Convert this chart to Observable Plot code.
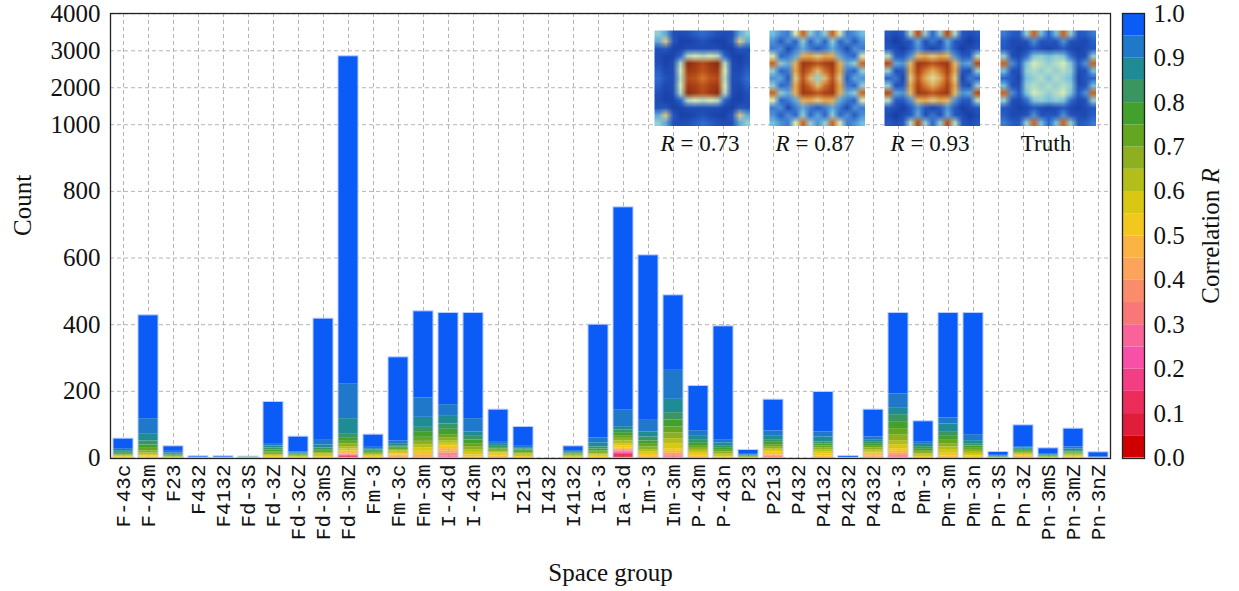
<!DOCTYPE html>
<html><head><meta charset="utf-8">
<script src="https://cdn.jsdelivr.net/npm/d3@7"></script>
<script src="https://cdn.jsdelivr.net/npm/@observablehq/plot@0.6"></script>
<style>
body{margin:0;background:#fff;}
#wrap{position:relative;width:1239px;height:591px;overflow:hidden;background:#fff;}
#wrap > * {position:absolute;}
.lbl{font-family:"Liberation Serif",serif;font-size:23px;color:#111;white-space:nowrap;transform:translateX(-50%);}
.cb{font-family:"Liberation Serif",serif;font-size:25px;color:#111;white-space:nowrap;transform:translate(-50%,-50%) rotate(-90deg);}
</style></head><body><div id="wrap"></div>
<script>
const categories = ["F-43c","F-43m","F23","F432","F4132","Fd-3S","Fd-3Z","Fd-3cZ","Fd-3mS","Fd-3mZ",
  "Fm-3","Fm-3c","Fm-3m","I-43d","I-43m","I23","I213","I432","I4132","Ia-3",
  "Ia-3d","Im-3","Im-3m","P-43m","P-43n","P23","P213","P432","P4132","P4232",
  "P4332","Pa-3","Pm-3","Pm-3m","Pm-3n","Pn-3S","Pn-3Z","Pn-3mS","Pn-3mZ","Pn-3nZ"];
// lower edge of each correlation bin (width 0.05)
const binLower = [0,0.05,0.10,0.15,0.20,0.25,0.30,0.35,0.40,0.45,0.50,0.55,0.60,0.65,0.70,0.75,0.80,0.85,0.90,0.95];
const binColors = ["#d00000","#e01e3c","#ec2d5c","#f23f84","#f850a8","#f8649a","#f87878","#fa8c6c","#fca45c","#fbb444",
  "#f2c81e","#d8c814","#b4be1a","#8eb01e","#64a620","#44a02c","#3a9660","#1f8c95","#1f78c9","#0b5cf7"];
// counts per space group, one value per correlation bin (R = 0.00 ... 0.95)
const counts = [
  [0,0,0,0,0,0,0,0,0,1,2,2,2,2,2,3,3,5,6,30],
  [0,0,0,0,0,0,0,0,1,2,3,4,5,6,8,10,12,22,45,310],
  [0,0,0,0,0,0,0,0,0,0,1,1,1,2,2,2,2,4,5,15],
  [0,0,0,0,0,0,0,0,0,0,0,0,0,0,0,0,0,1,1,3],
  [0,0,0,0,0,0,0,0,0,0,0,0,0,0,0,0,0,1,1,3],
  [0,0,0,0,0,0,0,0,0,0,0,0,0,1,2,1,0,0,0,0],
  [0,0,0,0,0,0,0,0,0,1,3,3,3,4,4,6,6,6,5,127],
  [0,0,0,0,0,0,0,0,0,0,1,2,2,2,2,2,2,2,3,46],
  [0,0,0,0,0,0,0,0,0,1,3,4,4,4,4,5,5,9,14,365],
  [2,2,2,1,1,1,1,1,2,3,5,6,7,8,8,9,12,47,105,2627],
  [0,0,0,0,0,0,0,0,0,2,3,3,3,3,3,3,4,4,4,38],
  [0,0,0,0,0,0,0,2,3,4,4,4,4,4,4,4,4,6,8,251],
  [0,0,0,0,0,0,0,0,4,6,10,10,10,10,12,15,15,30,58,260],
  [0,0,0,0,3,3,4,5,6,7,8,8,8,9,9,16,16,23,35,275],
  [0,0,0,0,0,0,0,0,0,3,6,8,8,9,9,11,11,13,40,317],
  [0,0,0,0,0,0,0,0,2,4,5,4,4,4,4,4,4,6,6,98],
  [0,0,0,0,0,0,0,0,0,0,4,4,4,4,4,4,3,4,4,58],
  [0,0,0,0,0,0,0,0,0,0,0,0,0,0,0,0,0,0,0,0],
  [0,0,0,0,0,0,0,0,0,0,2,2,2,3,3,2,2,3,3,13],
  [0,0,0,0,0,0,0,0,0,2,3,4,4,4,4,6,6,12,15,340],
  [3,4,4,3,3,2,2,2,3,4,6,7,8,8,8,9,8,10,51,607],
  [0,0,0,0,0,0,0,0,2,3,6,7,7,8,8,10,12,15,35,495],
  [0,0,1,1,1,2,2,3,4,6,8,15,15,17,18,21,22,40,87,225],
  [0,0,0,0,0,0,0,0,2,3,6,6,6,6,6,9,9,12,17,134],
  [0,0,0,0,0,0,0,0,0,0,3,5,5,5,5,6,6,10,10,340],
  [0,0,0,0,0,0,0,0,0,0,2,0,0,2,0,2,1,2,2,13],
  [0,0,0,0,0,0,2,3,4,4,5,5,5,6,6,7,8,12,14,94],
  [0,0,0,0,0,0,0,0,0,0,0,0,0,0,0,0,0,0,0,0],
  [0,0,0,0,0,0,0,0,2,4,6,6,6,6,6,6,6,15,15,120],
  [0,0,0,0,0,0,0,0,0,0,0,0,0,0,0,0,0,0,2,4],
  [0,0,0,0,0,0,0,3,3,4,5,5,5,5,5,6,6,8,8,82],
  [0,0,0,0,2,2,3,3,4,6,8,12,12,18,18,21,21,21,41,243],
  [0,0,0,0,0,0,0,0,0,0,4,4,4,5,5,6,6,7,8,61],
  [0,0,0,0,0,0,0,0,2,4,8,9,10,10,10,12,12,25,18,315],
  [0,0,0,0,0,0,0,0,0,2,4,5,6,6,6,7,7,9,18,365],
  [0,0,0,0,0,0,0,0,0,0,1,0,0,1,0,1,1,2,2,10],
  [0,0,0,0,0,0,0,0,2,3,3,3,3,3,3,3,3,4,4,64],
  [0,0,0,0,0,0,0,0,0,0,2,0,1,0,2,1,2,2,3,16],
  [0,0,0,0,0,0,0,0,0,0,3,3,3,3,3,3,4,5,6,55],
  [0,0,0,0,0,0,0,0,0,0,0,0,0,0,0,0,1,1,2,13]
];
const yTicks = [0,200,400,600,800,1000,2000,3000,4000];
const yBreaks = [0,1000,4000];
const rTicks = [0,0.1,0.2,0.3,0.4,0.5,0.6,0.7,0.8,0.9,1.0];
// inset maps: quarter grids (7x7, mirrored to 13x13), values on a 0..1 colour scale
const insetNames = ["R = 0.73","R = 0.87","R = 0.93","Truth"];
const insetQuarters = [
  [[0.45,0.35,0.12,0.10,0.12,0.18,0.22],
   [0.35,0.62,0.15,0.05,0.05,0.08,0.12],
   [0.12,0.15,0.05,0.06,0.10,0.10,0.10],
   [0.10,0.05,0.06,0.20,0.50,0.55,0.50],
   [0.12,0.05,0.10,0.50,1.00,0.95,0.88],
   [0.18,0.08,0.10,0.55,0.95,0.92,0.85],
   [0.22,0.12,0.10,0.50,0.88,0.85,0.78]],
  [[0.40,0.30,0.25,0.55,0.82,0.45,0.30],
   [0.30,0.15,0.30,0.20,0.45,0.20,0.35],
   [0.25,0.30,0.08,0.25,0.35,0.25,0.15],
   [0.55,0.20,0.25,0.35,0.68,0.70,0.62],
   [0.82,0.45,0.35,0.68,0.95,0.92,0.85],
   [0.45,0.20,0.25,0.70,0.92,0.80,0.65],
   [0.30,0.35,0.15,0.62,0.85,0.65,0.45]],
  [[0.15,0.10,0.15,0.50,0.88,0.45,0.20],
   [0.10,0.02,0.10,0.15,0.35,0.10,0.25],
   [0.15,0.10,0.03,0.15,0.30,0.15,0.05],
   [0.50,0.15,0.15,0.30,0.66,0.70,0.62],
   [0.88,0.35,0.30,0.66,0.95,0.92,0.85],
   [0.45,0.10,0.15,0.70,0.92,0.78,0.68],
   [0.20,0.25,0.05,0.62,0.85,0.68,0.58]],
  [[0.25,0.18,0.15,0.45,0.82,0.40,0.20],
   [0.18,0.08,0.10,0.12,0.30,0.12,0.15],
   [0.15,0.10,0.05,0.08,0.15,0.10,0.06],
   [0.45,0.12,0.08,0.22,0.42,0.45,0.40],
   [0.82,0.30,0.15,0.42,0.55,0.50,0.45],
   [0.40,0.12,0.10,0.45,0.50,0.45,0.50],
   [0.20,0.15,0.06,0.40,0.45,0.50,0.42]]
];
const insetStops = [0,0.2,0.4,0.55,0.7,0.85,1];
const insetColors = ["#15389f","#2a62cc","#72bfe0","#d6ebb8","#e6a64a","#c0541c","#8e2c0e"];

const wrap = document.getElementById("wrap");

const long = [];
categories.forEach((sg,i)=>counts[i].forEach((c,b)=>{ if(c>0) long.push({sg, bin:b, count:c}); }));
const totals = categories.map((sg,i)=>({sg, total:d3.sum(counts[i])})).filter(d=>d.total>0);

const grid = {stroke:"#b5b5b5", strokeOpacity:1, strokeWidth:1, strokeDasharray:"4,3"};
const main = Plot.plot({
  width:1239, height:591,
  marginLeft:110, marginRight:129, marginTop:13, marginBottom:133,
  style:{fontFamily:"Liberation Serif, serif", background:"transparent", color:"#111"},
  x:{type:"band", domain:categories, range:[110,1110.8], paddingInner:0.205, paddingOuter:0, label:null},
  y:{type:"linear", domain:yBreaks, range:[457.5,124.2,13.3], label:null},
  color:{type:"ordinal", domain:d3.range(binLower.length), range:binColors},
  marks:[
    Plot.gridX({...grid}),
    Plot.gridY(yTicks, {...grid}),
    Plot.barY(long, {x:"sg", y:"count", fill:"bin"}),
    Plot.barY(totals, {x:"sg", y:"total", fill:"none", stroke:"#b9ccff", strokeWidth:1}),
    Plot.axisY(yTicks, {tickSize:0, tickPadding:10, fontSize:25, tickFormat:d=>String(d), label:null}),
    Plot.axisX({tickSize:0, tickRotate:-90, tickPadding:6, fontSize:21, fontFamily:"Liberation Mono, monospace", label:null}),
    Plot.text(["Count"], {frameAnchor:"left", rotate:-90, dx:-88, fontSize:25}),
    Plot.text(["Space group"], {frameAnchor:"bottom", dy:122, fontSize:25}),
    Plot.frame({stroke:"#222", strokeWidth:1.3})
  ]
});
main.style.left="0px"; main.style.top="0px";
wrap.appendChild(main);

// colour bar
const cbData = binLower.map((lo,i)=>({lo, hi:lo+0.05, color:binColors[i]}));
const cbar = Plot.plot({
  width:139, height:591,
  marginLeft:22, marginRight:95, marginTop:13, marginBottom:133,
  style:{fontFamily:"Liberation Serif, serif", background:"transparent", color:"#111"},
  y:{domain:[0,1], range:[457.5,13.3], label:null},
  marks:[
    Plot.rect(cbData, {y1:"lo", y2:"hi", fill:"color"}),
    Plot.axisY(rTicks, {anchor:"right", tickSize:0, tickPadding:9, fontSize:25, tickFormat:d=>d.toFixed(1), label:null}),
    Plot.frame({stroke:"#222", strokeWidth:1.3})
  ]
});
cbar.style.left="1100px"; cbar.style.top="0px";
wrap.appendChild(cbar);

const cl = document.createElement("div");
cl.className="cb"; cl.innerHTML='Correlation <i>R</i>';
cl.style.left="1211px"; cl.style.top="236px";
wrap.appendChild(cl);

// insets: dense 13x13 grids, smoothed by bilinear image scaling
const insetLeft = [654,769,884,1000];
insetQuarters.forEach((q,k)=>{
  const n = 13, vals=[];
  for(let i=0;i<n;i++) for(let j=0;j<n;j++) vals.push(q[Math.min(i,n-1-i)][Math.min(j,n-1-j)]);
  const p = Plot.plot({
    width:96, height:96, margin:0,
    x:{domain:[0,n], axis:null}, y:{domain:[0,n], axis:null},
    color:{type:"linear", domain:insetStops, range:insetColors},
    marks:[Plot.raster(vals, {width:n, height:n, fill:d=>d, imageRendering:"auto"})]
  });
  p.style.left=insetLeft[k]+"px"; p.style.top="30px";
  wrap.appendChild(p);
  const t=document.createElement("div");
  t.className="lbl";
  t.innerHTML = insetNames[k].startsWith("R") ? '<i>R</i> = '+insetNames[k].slice(4) : insetNames[k];
  t.style.left=(insetLeft[k]+46)+"px"; t.style.top="131px";
  wrap.appendChild(t);
});
</script></body></html>
